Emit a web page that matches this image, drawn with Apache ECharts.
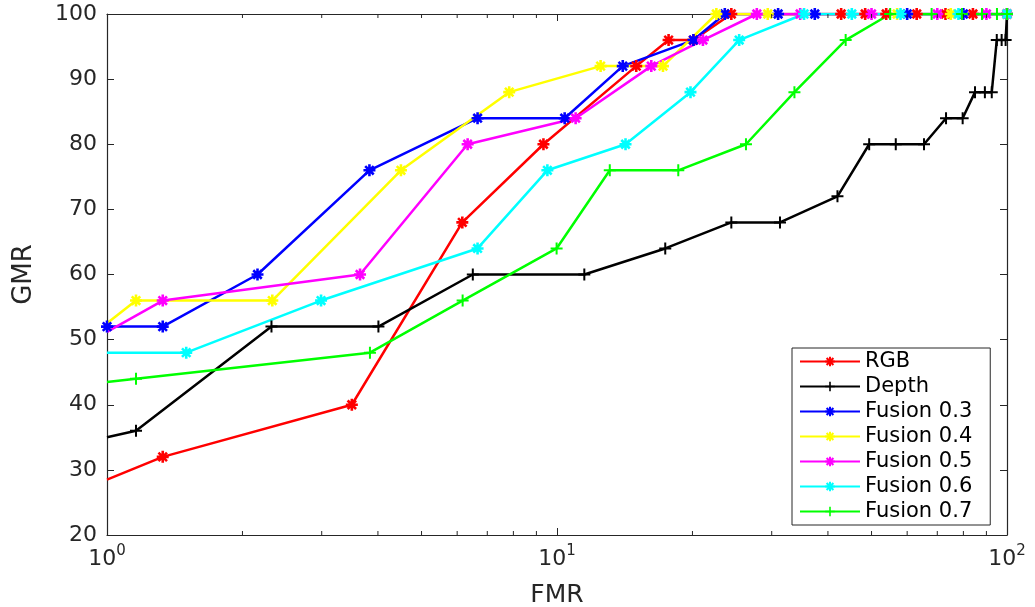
<!DOCTYPE html>
<html>
<head>
<meta charset="utf-8">
<script src="https://cdn.jsdelivr.net/npm/echarts@6/dist/echarts.min.js"></script>
<style>
  html, body { margin: 0; padding: 0; background: #fff; }
  #main { width: 1035px; height: 607px; }
</style>
</head>
<body>
<div id="main"></div>
<script>
// values: [FMR, GMR]
var rgb = [[1,28.5],[1.33,32],[3.5,40],[6.16,68],[9.33,80],[15,92],[17.7,96],[20.1,96],[24.4,100],[42.8,100],[48.4,100],[53.9,100],[63,100],[73,100],[84,100],[100,100]];
var depth = [[1,35],[1.16,36],[2.32,52],[4.01,52],[6.5,60],[11.5,60],[17.4,64],[24.4,68],[31.3,68],[42,72],[49.4,80],[56.6,80],[65.4,80],[73.2,84],[79.7,84],[84.9,88],[89.3,88],[92.5,88],[94.9,96],[97.3,96],[99.3,96],[100,100]];
var fusion03 = [[1,52],[1.33,52],[2.16,60],[3.83,76],[6.66,84],[10.4,84],[14,92],[20.1,96],[23.6,100],[31,100],[37.4,100],[60,100],[80,100],[100,100]];
var fusion04 = [[1,52.5],[1.16,56],[2.33,56],[4.5,76],[7.83,88],[12.5,92],[17.2,92],[22.6,100],[29.4,100],[57,100],[75,100],[100,100]];
var fusion05 = [[1,51.2],[1.33,56],[3.65,60],[6.33,80],[11,84],[16.2,92],[21.1,96],[27.8,100],[34.7,100],[50,100],[70,100],[90,100],[100,100]];
var fusion06 = [[1,48],[1.5,48],[2.99,56],[6.66,64],[9.52,76],[14.2,80],[19.8,88],[25.4,96],[35.4,100],[45.2,100],[58,100],[78,100],[100,100]];
var fusion07 = [[1,43.5],[1.16,44],[3.84,48],[6.17,56],[9.98,64],[13.1,76],[18.6,76],[26.3,80],[33.7,88],[43.8,96],[55,100],[68,100],[79.4,100],[88,100],[95,100],[100,100]];

var names = ['RGB', 'Depth', 'Fusion 0.3', 'Fusion 0.4', 'Fusion 0.5', 'Fusion 0.6', 'Fusion 0.7'];
var colors = ['#ff0000', '#000000', '#0000ff', '#ffff00', '#ff00ff', '#00ffff', '#00ff00'];
var minorTicks = [2,3,4,5,6,7,8,9,20,30,40,50,60,70,80,90];

// matlab style markers
var star = 'path://M-6,-1.3 L-6,1.3 L6,1.3 L6,-1.3 Z M-1.3,-6 L-1.3,6 L1.3,6 L1.3,-6 Z ' +
  'M3.32,5.16 L5.16,3.32 L-3.32,-5.16 L-5.16,-3.32 Z ' +
  'M5.16,-3.32 L3.32,-5.16 L-5.16,3.32 L-3.32,5.16 Z';
var plus = 'path://M-6,-1 L-6,1 L6,1 L6,-1 Z M-1,-6 L-1,6 L1,6 L1,-6 Z';
var markers = [star, plus, star, star, star, star, plus];
var allData = [rgb, depth, fusion03, fusion04, fusion05, fusion06, fusion07];

var font = 'DejaVu Sans';
var ink = '#262626';

var series = allData.map(function (pts, k) {
  return {
    name: names[k],
    type: 'line',
    symbol: markers[k],
    symbolSize: 12,
    showAllSymbol: true,
    clip: true,
    color: colors[k],
    itemStyle: { color: colors[k] },
    lineStyle: { color: colors[k], width: 2.5 },
    data: pts.map(function (p, i) {
      // no marker where the curve enters at the left edge, except Fusion 0.3
      if (i === 0 && k !== 2) return { value: p, symbol: 'none' };
      return p;
    })
  };
});

series.push({
  type: 'custom',
  silent: true,
  z: 10,
  clip: false,
  data: minorTicks.map(function (v) { return [v, 20]; }),
  renderItem: function (params, api) {
    var b = api.coord([api.value(0), 20]);
    var t = api.coord([api.value(0), 100]);
    var st = { stroke: ink, lineWidth: 1 };
    return {
      type: 'group',
      children: [
        { type: 'line', shape: { x1: b[0], y1: b[1], x2: b[0], y2: b[1] - 4 }, style: st },
        { type: 'line', shape: { x1: t[0], y1: t[1], x2: t[0], y2: t[1] + 4 }, style: st }
      ]
    };
  }
});

var chart = echarts.init(document.getElementById('main'));
chart.setOption({
  animation: false,
  backgroundColor: '#fff',
  grid: { left: 107, right: 28, top: 14, bottom: 72, containLabel: false, outerBoundsMode: 'none' },
  legend: {
    data: names,
    orient: 'vertical',
    left: 792,
    top: 348,
    padding: [3, 18, 3, 7],
    itemWidth: 60,
    itemHeight: 12,
    itemGap: 4,
    borderColor: ink,
    borderWidth: 1,
    borderRadius: 0,
    backgroundColor: '#fff',
    textStyle: { fontFamily: font, fontSize: 21, color: '#000' }
  },
  xAxis: [{
    type: 'log',
    min: 1,
    max: 100,
    name: 'FMR',
    nameLocation: 'middle',
    nameGap: 48,
    nameTextStyle: { fontFamily: font, fontSize: 25, color: ink },
    axisLine: { lineStyle: { color: ink, width: 1.2 } },
    axisTick: { inside: true, length: 7, lineStyle: { color: ink } },
    splitLine: { show: false },
    axisLabel: {
      margin: 9,
      color: ink,
      formatter: function (v) {
        return '{b|10}{s|' + Math.round(Math.log10(v)) + '}';
      },
      rich: {
        b: { fontFamily: font, fontSize: 22, lineHeight: 30, color: ink },
        s: { fontFamily: font, fontSize: 15, lineHeight: 18, verticalAlign: 'top', color: ink }
      }
    }
  }, {
    type: 'log',
    min: 1,
    max: 100,
    position: 'top',
    axisLine: { lineStyle: { color: ink, width: 1.2 } },
    axisTick: { inside: true, length: 7, lineStyle: { color: ink } },
    axisLabel: { show: false },
    splitLine: { show: false }
  }],
  yAxis: [{
    type: 'value',
    min: 20,
    max: 100,
    interval: 10,
    name: 'GMR',
    nameLocation: 'middle',
    nameGap: 70,
    nameTextStyle: { fontFamily: font, fontSize: 26, color: ink },
    axisLine: { show: true, lineStyle: { color: ink, width: 1.2 } },
    axisTick: { show: true, inside: true, length: 7, lineStyle: { color: ink } },
    splitLine: { show: false },
    axisLabel: { margin: 10, fontFamily: font, fontSize: 22, color: ink }
  }, {
    type: 'value',
    min: 20,
    max: 100,
    interval: 10,
    position: 'right',
    axisLine: { show: true, lineStyle: { color: ink, width: 1.2 } },
    axisTick: { show: true, inside: true, length: 7, lineStyle: { color: ink } },
    axisLabel: { show: false },
    splitLine: { show: false }
  }],
  series: series
});
</script>
</body>
</html>
